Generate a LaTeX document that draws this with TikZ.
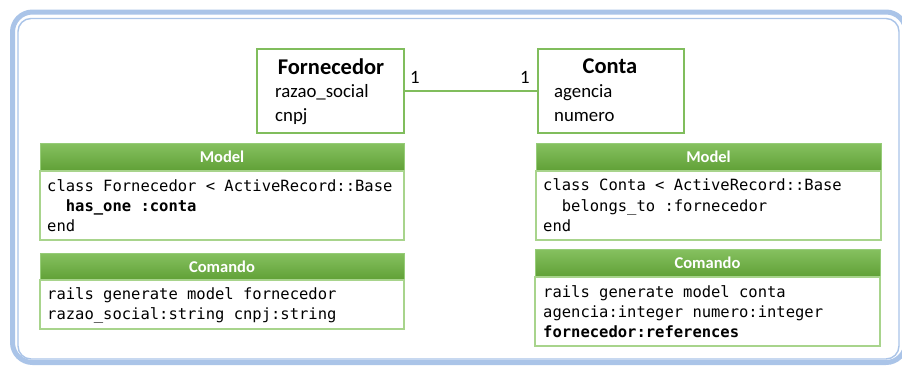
\documentclass[tikz,border=0pt]{standalone}
\usepackage{fontspec}
\setmainfont{Carlito}
\setmonofont{DejaVu Sans Mono}
\begin{document}
\begin{tikzpicture}[x=1pt,y=-1pt,
  frameblue/.style={draw={rgb,255:red,170;green,196;blue,232}},
  classbox/.style={draw={rgb,255:red,128;green,189;blue,92}, line width=1.8pt, fill=white},
  hdr/.style={draw={rgb,255:red,150;green,204;blue,120}, line width=1pt,
    top color={rgb,255:red,134;green,193;blue,96}, bottom color={rgb,255:red,96;green,160;blue,54}},
  body/.style={draw={rgb,255:red,168;green,212;blue,140}, line width=1.3pt, fill=white},
  hdrtxt/.style={anchor=base, inner sep=0pt, text=white, font=\fontsize{16.5}{18}\selectfont\bfseries},
  code/.style={anchor=base west, inner sep=0pt, font=\fontsize{15.5}{18}\selectfont\ttfamily},
  attr/.style={anchor=base west, inner sep=0pt, font=\fontsize{18.8}{22}\selectfont},
  ctitle/.style={anchor=base, inner sep=0pt, font=\fontsize{22.5}{26}\selectfont\bfseries},
  mult/.style={anchor=base, inner sep=0pt, font=\fontsize{18.8}{22}\selectfont},
  assoc/.style={draw={rgb,255:red,128;green,189;blue,92}, line width=1.5pt}
]
\useasboundingbox (0,0) rectangle (902,365);
\fill[white] (0,0) rectangle (902,365);

% double frame
\draw[frameblue, line width=5pt, rounded corners=20pt] (12.5,12) rectangle (906,362.5);
\draw[frameblue, line width=1.4pt, rounded corners=13pt] (18,18.5) rectangle (899,359);

% class boxes and association
\node[classbox, minimum width=147pt, minimum height=84pt, inner sep=0pt] (forn) at (330.5,91) {};
\node[classbox, minimum width=146pt, minimum height=84pt, inner sep=0pt] (conta) at (611,91) {};
\draw[assoc] (forn) -- (conta);

\node[ctitle] (fornT) at (331,74) {Fornecedor};
\node[attr] (fornA1) at (275,97) {razao\_social};
\node[attr] (fornA2) at (275,121) {cnpj};

\node[ctitle] (contaT) at (610,73) {Conta};
\node[attr] (contaA1) at (554,97) {agencia};
\node[attr] (contaA2) at (554,121) {numero};

\node[mult] (m1) at (415,83) {1};
\node[mult] (m2) at (525,83) {1};

% left: Model
\path[hdr] (40,143) rectangle (404,171);
\path[body] (40,171) rectangle (404,240);
\node[hdrtxt] (lmh) at (222,162) {Model};
\node[code] (lm1) at (47,191) {class Fornecedor < ActiveRecord::Base};
\node[code, font=\fontsize{15.5}{18}\selectfont\ttfamily\bfseries] (lm2) at (65.7,211) {has\_one :conta};
\node[code] (lm3) at (47,231) {end};

% left: Comando
\path[hdr] (40,253) rectangle (404,280);
\path[body] (40,280) rectangle (404,329);
\node[hdrtxt] (lch) at (222,272) {Comando};
\node[code] (lc1) at (47,299) {rails generate model fornecedor};
\node[code] (lc2) at (47,319) {razao\_social:string cnpj:string};

% right: Model
\path[hdr] (536,143) rectangle (881,171);
\path[body] (536,171) rectangle (881,240);
\node[hdrtxt] (rmh) at (708.5,162) {Model};
\node[code] (rm1) at (543,190) {class Conta < ActiveRecord::Base};
\node[code] (rm2) at (561.7,211) {belongs\_to :fornecedor};
\node[code] (rm3) at (543,231) {end};

% right: Comando
\path[hdr] (535,249) rectangle (880,277);
\path[body] (535,277) rectangle (880,346);
\node[hdrtxt] (rch) at (707.5,268) {Comando};
\node[code] (rc1) at (543,297) {rails generate model conta};
\node[code] (rc2) at (543,317) {agencia:integer numero:integer};
\node[code, font=\fontsize{15.5}{18}\selectfont\ttfamily\bfseries] (rc3) at (543,337) {fornecedor:references};
\end{tikzpicture}
\end{document}
